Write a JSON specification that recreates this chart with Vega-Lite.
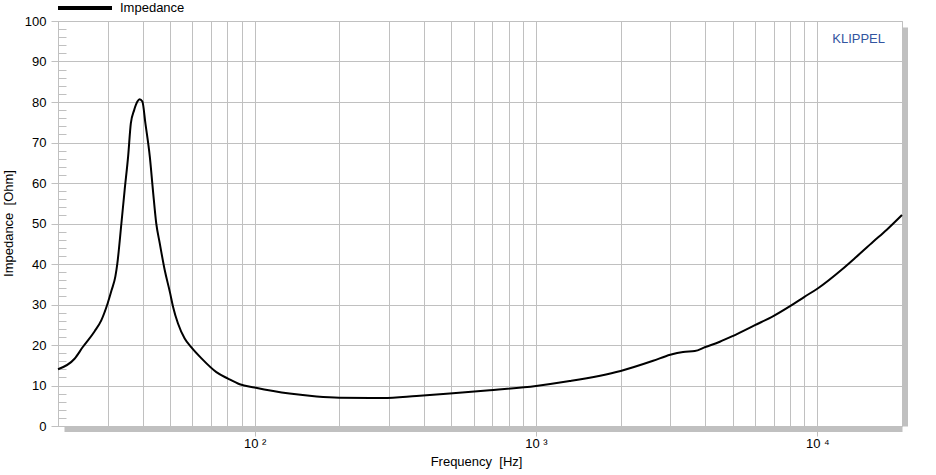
{
  "$schema": "https://vega.github.io/schema/vega-lite/v6.json",
  "width": 844,
  "height": 405,
  "autosize": "none",
  "padding": {"left": 58, "top": 21, "right": 34, "bottom": 49},
  "background": "white",
  "config": {"font": "Liberation Sans", "view": {"stroke": "#c0c0c0", "strokeWidth": 1}},
  "title": {"text": "KLIPPEL", "anchor": "end", "frame": "group", "orient": "top", "offset": -73, "dx": -17, "fontSize": 13, "fontWeight": "normal", "color": "#3355a0", "baseline": "middle"},
  "data": {"values": [
    {"f": 20, "z": 14.0}, {"f": 22.9, "z": 16.6}, {"f": 24.5, "z": 19.5}, {"f": 27.0, "z": 23.4},
    {"f": 28.5, "z": 26.1}, {"f": 30.0, "z": 30.2}, {"f": 31.0, "z": 33.5}, {"f": 32.0, "z": 37.0},
    {"f": 32.5, "z": 40.1}, {"f": 33.6, "z": 50.0}, {"f": 34.5, "z": 58.2}, {"f": 35.5, "z": 66.5},
    {"f": 36.3, "z": 74.7}, {"f": 37.3, "z": 78.0}, {"f": 38.3, "z": 80.1}, {"f": 39.0, "z": 80.7},
    {"f": 39.9, "z": 80.1}, {"f": 40.9, "z": 74.7}, {"f": 42.4, "z": 66.5}, {"f": 43.5, "z": 58.2},
    {"f": 44.7, "z": 50.0}, {"f": 46.0, "z": 45.1}, {"f": 47.9, "z": 38.5}, {"f": 50.0, "z": 33.0},
    {"f": 51.3, "z": 29.4}, {"f": 53.4, "z": 25.3}, {"f": 56.4, "z": 21.6}, {"f": 59.6, "z": 19.4},
    {"f": 64.7, "z": 16.7}, {"f": 73.1, "z": 13.3}, {"f": 80.4, "z": 11.7}, {"f": 88.5, "z": 10.3},
    {"f": 100, "z": 9.5}, {"f": 133, "z": 8.0}, {"f": 166, "z": 7.3}, {"f": 200, "z": 7.0},
    {"f": 286, "z": 6.9}, {"f": 376, "z": 7.4}, {"f": 494, "z": 8.0}, {"f": 685, "z": 8.8},
    {"f": 1000, "z": 9.9}, {"f": 1318, "z": 11.1}, {"f": 2000, "z": 13.6}, {"f": 2608, "z": 16.1},
    {"f": 3000, "z": 17.6}, {"f": 3333, "z": 18.3}, {"f": 3668, "z": 18.5}, {"f": 4000, "z": 19.5},
    {"f": 4502, "z": 20.8}, {"f": 5000, "z": 22.2}, {"f": 6000, "z": 24.9}, {"f": 7000, "z": 27.2},
    {"f": 8000, "z": 29.6}, {"f": 9000, "z": 31.9}, {"f": 10000, "z": 33.9}, {"f": 12350, "z": 38.9},
    {"f": 13780, "z": 41.8}, {"f": 15790, "z": 45.5}, {"f": 17620, "z": 48.4}, {"f": 20000, "z": 52.1}
  ]},
  "encoding": {
    "x": {
      "field": "f", "type": "quantitative",
      "scale": {"type": "log", "domain": [20, 20000], "nice": false},
      "axis": {
        "values": [20, 30, 40, 50, 60, 70, 80, 90, 100, 200, 300, 400, 500, 600, 700, 800, 900, 1000, 2000, 3000, 4000, 5000, 6000, 7000, 8000, 9000, 10000, 20000],
        "labelExpr": "datum.value == 100 ? '10 ²' : datum.value == 1000 ? '10 ³' : datum.value == 10000 ? '10 ⁴' : ''",
        "labelOverlap": false,
        "labelFontSize": 13,
        "labelColor": "black",
        "labelPadding": 1,
        "tickSize": 7,
        "tickColor": {"condition": {"test": "datum.value == 100 || datum.value == 1000 || datum.value == 10000", "value": "#c0c0c0"}, "value": "transparent"},
        "grid": true,
        "gridColor": "#c0c0c0",
        "gridOpacity": 1,
        "domainColor": "#c0c0c0",
        "domainWidth": 5,
        "domainDash": [0, 6, 2000],
        "offset": 3,
        "title": "Frequency\u00a0\u00a0[Hz]",
        "titleFontSize": 13,
        "titleFontWeight": "normal",
        "titleColor": "black",
        "titleX": 418,
        "titleY": 32,
        "titleBaseline": "middle",
        "titleAlign": "center"
      }
    }
  },
  "layer": [
    {
      "mark": {"type": "line", "strokeWidth": 2, "interpolate": "monotone"},
      "encoding": {
        "y": {
          "field": "z", "type": "quantitative",
          "scale": {"domain": [0, 100], "nice": false, "zero": true},
          "axis": {
            "values": [0, 2, 4, 6, 8, 10, 12, 14, 16, 18, 20, 22, 24, 26, 28, 30, 32, 34, 36, 38, 40, 42, 44, 46, 48, 50, 52, 54, 56, 58, 60, 62, 64, 66, 68, 70, 72, 74, 76, 78, 80, 82, 84, 86, 88, 90, 92, 94, 96, 98, 100],
            "labelExpr": "datum.value % 10 == 0 ? datum.label : ''",
            "labelOverlap": false,
            "labelFontSize": 13,
            "labelColor": "black",
            "labelPadding": 5,
            "tickColor": "#c0c0c0",
            "tickSize": {"condition": {"test": "datum.value % 10 == 0", "value": 7}, "value": -8},
            "grid": true,
            "gridColor": {"condition": {"test": "datum.value % 10 == 0", "value": "#c0c0c0"}, "value": "transparent"},
            "gridOpacity": 1,
            "domainColor": "#c0c0c0",
            "title": "Impedance\u00a0\u00a0[Ohm]",
            "titleFontSize": 13,
            "titleFontWeight": "normal",
            "titleColor": "black",
            "titleAngle": -90,
            "titleX": -50,
            "titleY": 202,
            "titleBaseline": "middle",
            "titleAlign": "center"
          }
        },
        "color": {
          "datum": "Impedance",
          "scale": {"range": ["black"]},
          "legend": {
            "orient": "none", "legendX": -2, "legendY": -42, "padding": 0,
            "symbolType": "stroke", "symbolSize": 2916, "symbolStrokeWidth": 4, "symbolStrokeColor": "black",
            "labelFontSize": 13, "labelColor": "black", "labelOffset": 6, "title": null
          }
        }
      }
    },
    {
      "mark": {"type": "line", "opacity": 0},
      "encoding": {
        "y": {
          "field": "z", "type": "quantitative",
          "axis": {"orient": "right", "labels": false, "ticks": false, "grid": false, "domainColor": "#c0c0c0", "domainWidth": 5, "domainDash": [399, 100], "offset": 3, "title": null}
        }
      }
    }
  ],
  "resolve": {"axis": {"y": "independent"}}
}
